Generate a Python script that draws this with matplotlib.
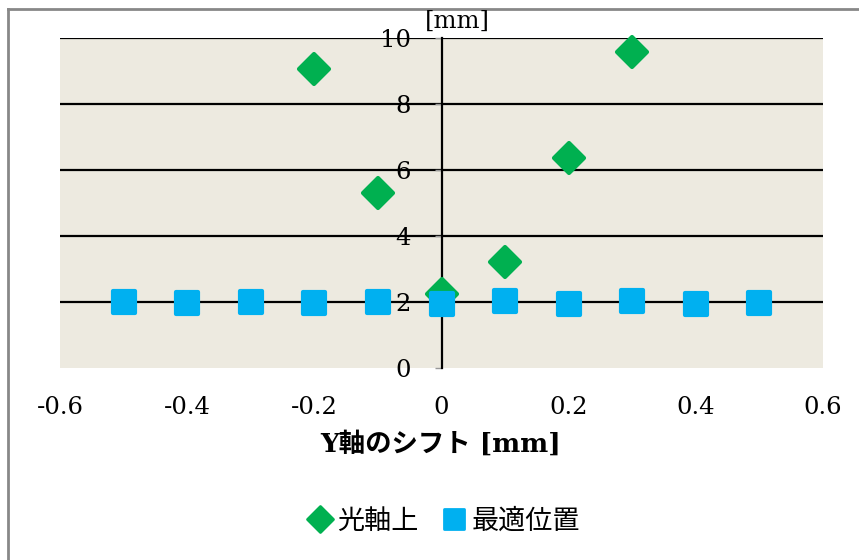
import matplotlib
matplotlib.use("Agg")
import matplotlib.pyplot as plt
from matplotlib.lines import Line2D
from matplotlib.markers import MarkerStyle

# Shift along Y [mm] and resulting positions [mm]
x_axis = [-0.2, -0.1, 0.0, 0.1, 0.2, 0.3]
y_axis = [9.05, 5.3, 2.25, 3.2, 6.35, 9.58]

x_opt = [-0.5, -0.4, -0.3, -0.2, -0.1, 0.0, 0.1, 0.2, 0.3, 0.4, 0.5]
y_opt = [1.99, 1.97, 2.0, 1.96, 1.99, 1.95, 2.02, 1.94, 2.02, 1.94, 1.98]

x_ticks = [-0.6, -0.4, -0.2, 0, 0.2, 0.4, 0.6]
x_ticklabels = ["-0.6", "-0.4", "-0.2", "0", "0.2", "0.4", "0.6"]
y_ticks = [0, 2, 4, 6, 8, 10]

series_names = ["光軸上", "最適位置"]
GREEN = "#00B050"
BLUE = "#00B0F0"
BG = "#EDEAE0"

SERIF = ["DejaVu Serif", "Noto Sans CJK JP"]
CJK = ["Noto Sans CJK JP", "DejaVu Sans"]

DIAMOND = MarkerStyle("D", joinstyle="round")
SQUARE = MarkerStyle("s", joinstyle="round")

fig = plt.figure(figsize=(8.59, 5.60), dpi=100)
ax = fig.add_axes([60 / 859, 1 - 368 / 560, (823 - 60) / 859, (368 - 38) / 560])
ax.set_facecolor(BG)

ax.set_xlim(-0.6, 0.6)
ax.set_ylim(0, 10)

# horizontal gridlines (none along the zero line)
for yv in y_ticks[1:]:
    ax.axhline(yv, color="black", lw=1.6, zorder=1)

ax.plot(x_axis, y_axis, linestyle="none", marker=DIAMOND, ms=15, color=GREEN,
        mec=GREEN, mew=3, mfc=GREEN, zorder=3, clip_on=False)
ax.plot(x_opt, y_opt, linestyle="none", marker=SQUARE, ms=16.5, color=BLUE,
        mec=BLUE, mew=3, mfc=BLUE, zorder=4, clip_on=False)

for s in ["top", "right", "bottom"]:
    ax.spines[s].set_visible(False)
ax.spines["left"].set_position(("data", 0))
ax.spines["left"].set_linewidth(1.6)
ax.spines["left"].set_zorder(2)

ax.set_yticks(y_ticks)
ax.set_yticklabels([str(v) for v in y_ticks], fontfamily=SERIF, fontsize=17.5)
ax.tick_params(axis="y", direction="out", length=5, width=1, color="#999999", pad=17)

ax.set_xticks(x_ticks)
ax.set_xticklabels(x_ticklabels, fontfamily=SERIF, fontsize=17.5)
ax.tick_params(axis="x", length=0, pad=20)

fig.text(457 / 859, 1 - 21 / 560, "[mm]", fontfamily=SERIF, fontsize=17.5,
         ha="center", va="center")

fig.text(441 / 859, 1 - 444 / 560, "Y軸のシフト [mm]", fontfamily=SERIF,
         fontsize=19, fontweight="bold", ha="center", va="center")

handles = [
    Line2D([], [], linestyle="none", marker=DIAMOND, ms=13, color=GREEN, mec=GREEN, mew=2),
    Line2D([], [], linestyle="none", marker=SQUARE, ms=15, color=BLUE, mec=BLUE, mew=2),
]
fig.legend(handles, series_names, loc="center", bbox_to_anchor=(443 / 859, 1 - 521 / 560),
           ncol=2, frameon=False, prop={"family": CJK, "size": 19.5},
           handletextpad=0.15, columnspacing=0.8, handlelength=1.0)

# outer chart border (top and left edges)
fig.add_artist(Line2D([8 / 859, 8 / 859], [0, 1 - 9 / 560], transform=fig.transFigure,
                      color="#888888", lw=2))
fig.add_artist(Line2D([8 / 859, 1], [1 - 9 / 560, 1 - 9 / 560], transform=fig.transFigure,
                      color="#888888", lw=2))

fig.savefig("out.png", dpi=100)
